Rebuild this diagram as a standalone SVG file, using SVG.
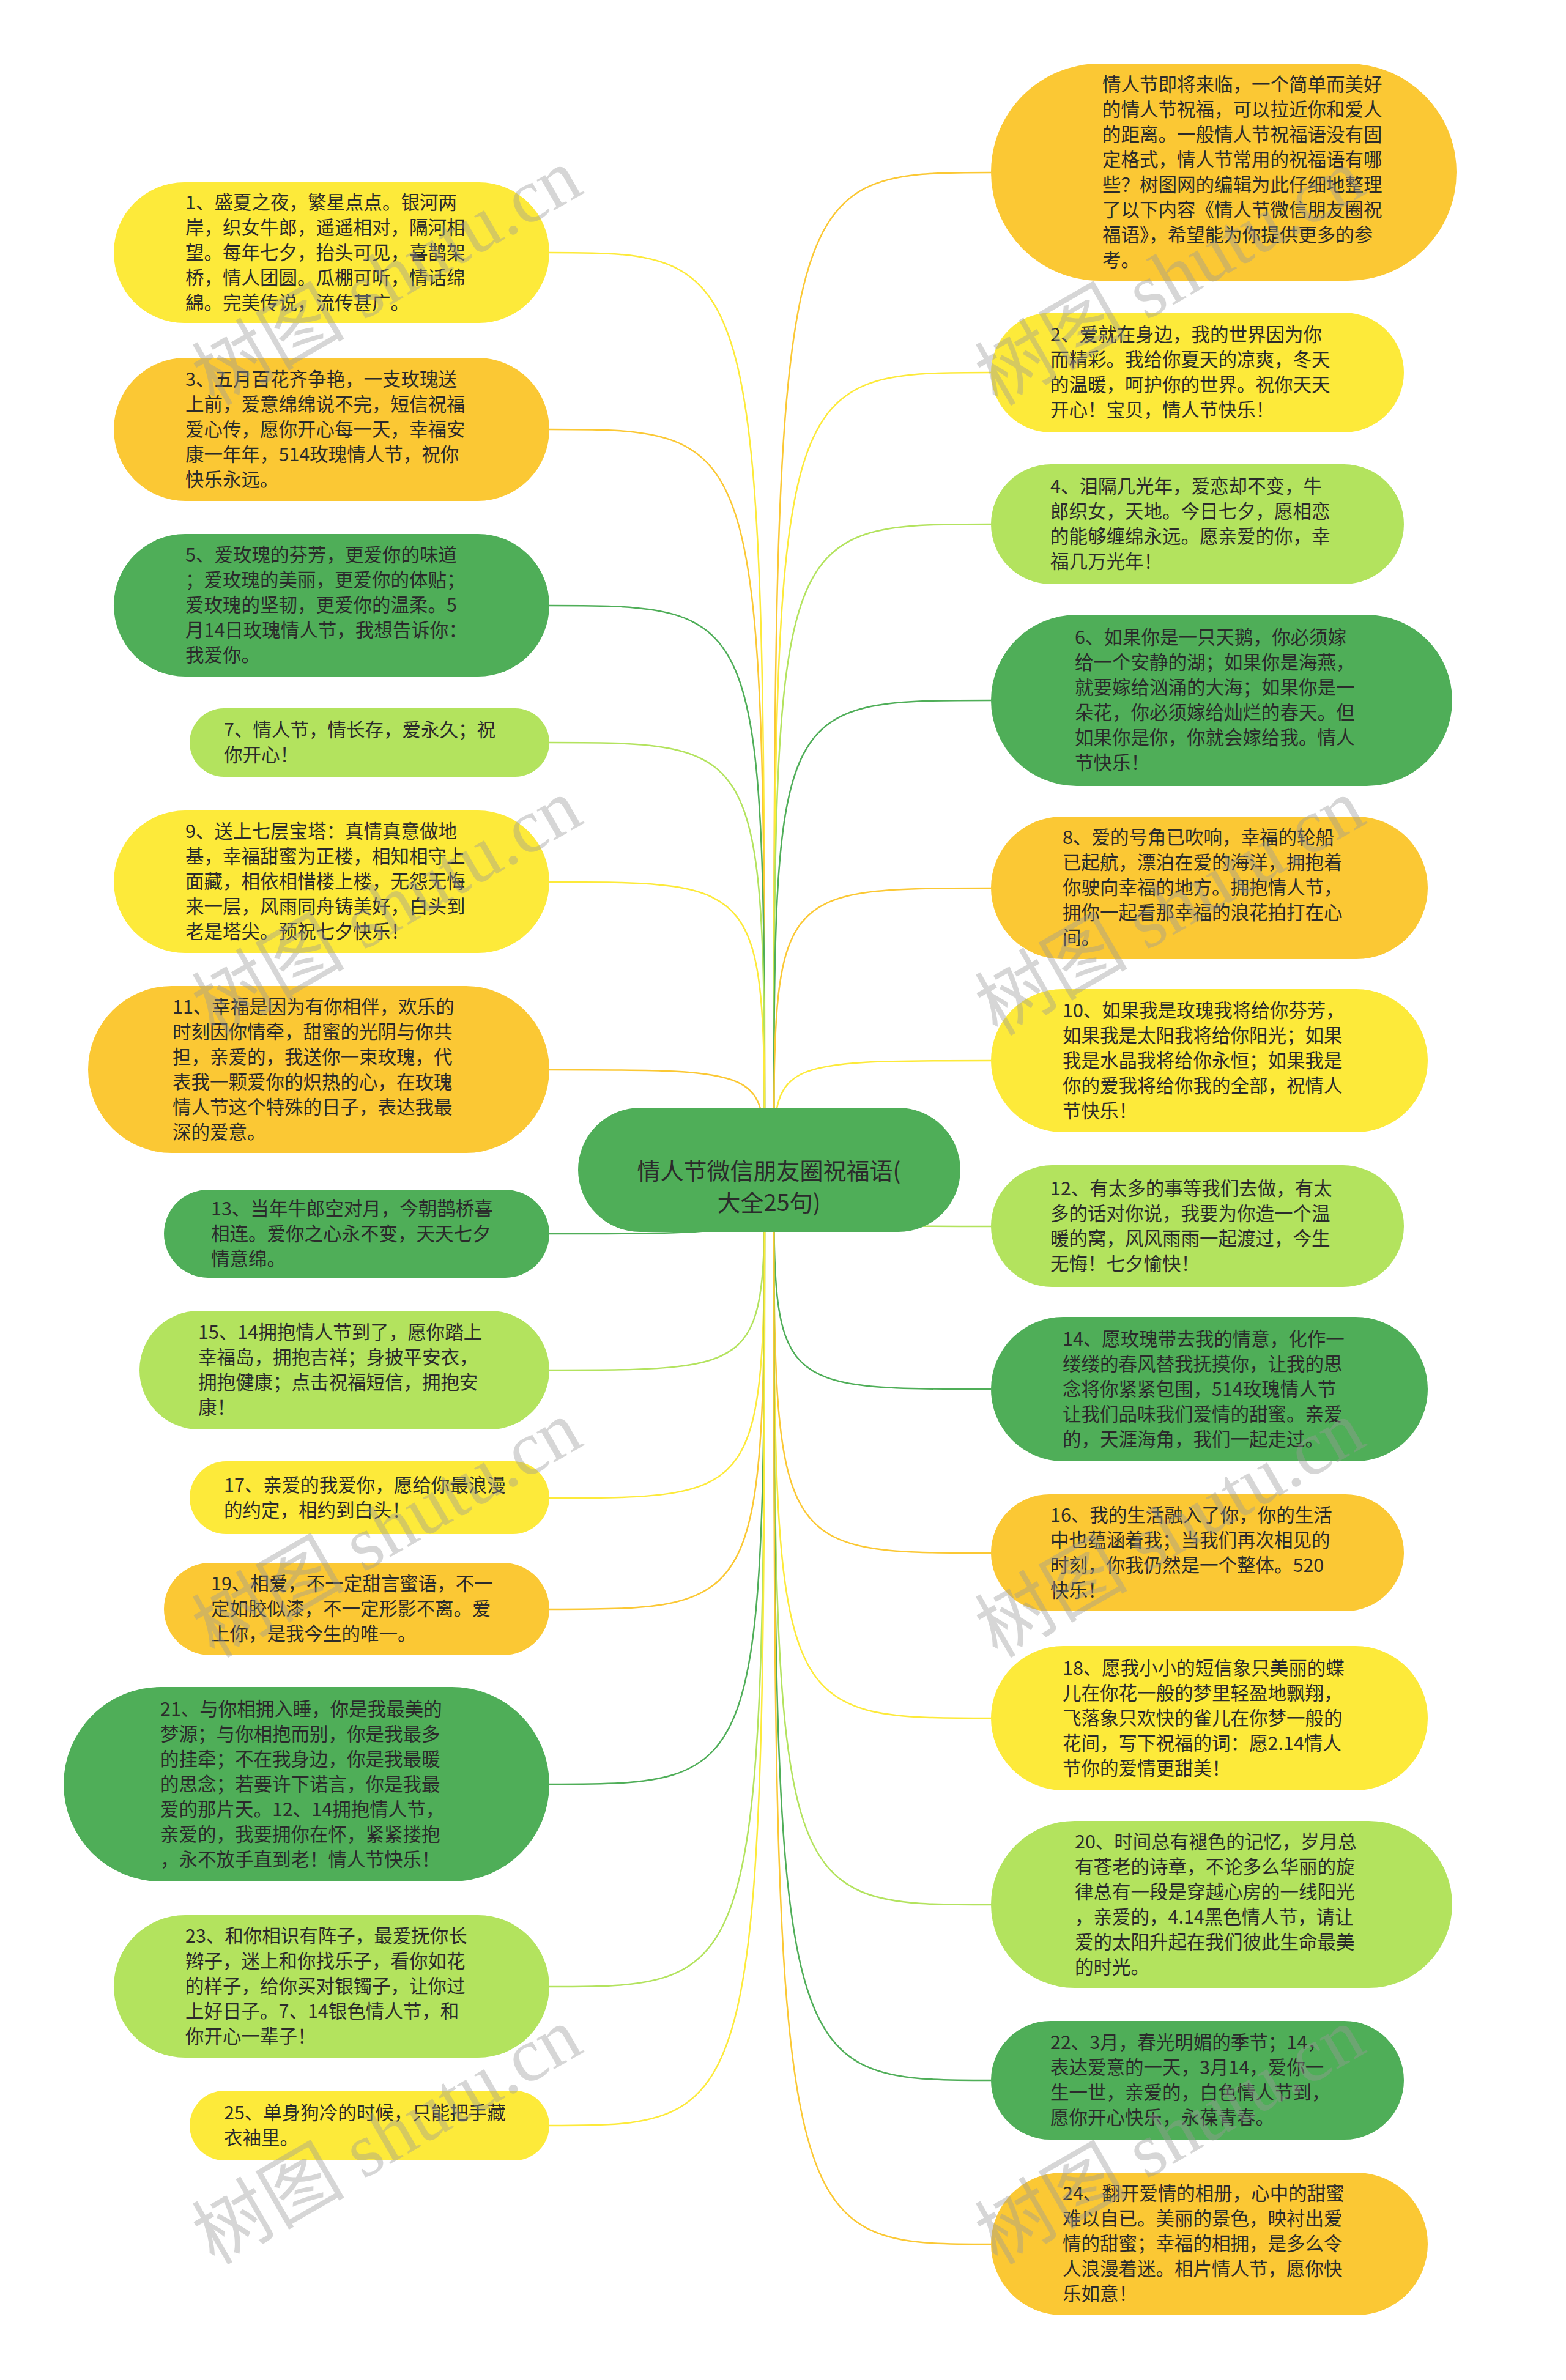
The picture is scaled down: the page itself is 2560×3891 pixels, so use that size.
<svg xmlns="http://www.w3.org/2000/svg" width="2560" height="3891" viewBox="0 0 2560 3891">
<style>
.bg{fill:#ffffff}
.y{fill:#FDEA3A}.o{fill:#FBC834}.g{fill:#4FAE58}.l{fill:#B3E35E}
.sy{stroke:#FDEA3A}.so{stroke:#FBC834}.sg{stroke:#4FAE58}.sl{stroke:#B3E35E}
.cn path{fill:none;stroke-width:2.5}
.t{font-family:"Noto Sans CJK SC","Noto Sans",sans-serif;font-size:30.5px;fill:#2b2b2b}
.ct{font-family:"Noto Sans CJK SC","Noto Sans",sans-serif;font-size:38px;fill:#2b2b2b;text-anchor:middle}
.wm{font-family:"Liberation Serif","Noto Sans CJK SC",serif;font-size:125px;fill:#9a9a9a;opacity:0.4}
</style>
<rect class="bg" x="0" y="0" width="2560" height="3891"/>
<g id="connectors" class="cn">
<path class="sy" d="M1250,1912 C1250,413 1250,413 898,413"/>
<path class="so" d="M1250,1912 C1250,702 1250,702 898,702"/>
<path class="sg" d="M1250,1912 C1250,990 1250,990 898,990"/>
<path class="sl" d="M1250,1912 C1250,1214 1250,1214 898,1214"/>
<path class="sy" d="M1250,1912 C1250,1442 1250,1442 898,1442"/>
<path class="so" d="M1250,1912 C1250,1749 1250,1749 898,1749"/>
<path class="sg" d="M1250,1912 C1250,2017 1250,2017 898,2017"/>
<path class="sl" d="M1250,1912 C1250,2240 1250,2240 898,2240"/>
<path class="sy" d="M1250,1912 C1250,2449 1250,2449 898,2449"/>
<path class="so" d="M1250,1912 C1250,2631 1250,2631 898,2631"/>
<path class="sg" d="M1250,1912 C1250,2917 1250,2917 898,2917"/>
<path class="sl" d="M1250,1912 C1250,3248 1250,3248 898,3248"/>
<path class="sy" d="M1250,1912 C1250,3475 1250,3475 898,3475"/>
<path class="so" d="M1265,1912 C1265,282 1265,282 1620,282"/>
<path class="sy" d="M1265,1912 C1265,609 1265,609 1620,609"/>
<path class="sl" d="M1265,1912 C1265,857 1265,857 1620,857"/>
<path class="sg" d="M1265,1912 C1265,1145 1265,1145 1620,1145"/>
<path class="so" d="M1265,1912 C1265,1452 1265,1452 1620,1452"/>
<path class="sy" d="M1265,1912 C1265,1734 1265,1734 1620,1734"/>
<path class="sl" d="M1265,1912 C1265,2005 1265,2005 1620,2005"/>
<path class="sg" d="M1265,1912 C1265,2271 1265,2271 1620,2271"/>
<path class="so" d="M1265,1912 C1265,2539 1265,2539 1620,2539"/>
<path class="sy" d="M1265,1912 C1265,2809 1265,2809 1620,2809"/>
<path class="sl" d="M1265,1912 C1265,3114 1265,3114 1620,3114"/>
<path class="sg" d="M1265,1912 C1265,3401 1265,3401 1620,3401"/>
<path class="so" d="M1265,1912 C1265,3669 1265,3669 1620,3669"/>
</g>
<g id="center">
<rect class="g" x="945" y="1811" width="625" height="203" rx="101.5"/>
<text class="ct" x="1257" y="1928">情人节微信朋友圈祝福语(<tspan x="1257" dy="52">大全25句)</tspan></text>
</g>
<g id="n1"><rect class="y" x="186" y="298" width="712" height="230" rx="115"/>
<text class="t" x="303" y="342"><tspan x="303">1、盛夏之夜，繁星点点。银河两</tspan><tspan x="303" dy="41">岸，织女牛郎，遥遥相对，隔河相</tspan><tspan x="303" dy="41">望。每年七夕，抬头可见，喜鹊架</tspan><tspan x="303" dy="41">桥，情人团圆。瓜棚可听，情话绵</tspan><tspan x="303" dy="41">綿。完美传说，流传甚广。</tspan></text></g>
<g id="n3"><rect class="o" x="186" y="585" width="712" height="234" rx="117"/>
<text class="t" y="631"><tspan x="303">3、五月百花齐争艳，一支玫瑰送</tspan><tspan x="303" dy="41">上前，爱意绵绵说不完，短信祝福</tspan><tspan x="303" dy="41">爱心传，愿你开心每一天，幸福安</tspan><tspan x="303" dy="41">康一年年，514玫瑰情人节，祝你</tspan><tspan x="303" dy="41">快乐永远。</tspan></text></g>
<g id="n5"><rect class="g" x="186" y="873" width="712" height="233" rx="116.5"/>
<text class="t" y="918"><tspan x="303">5、爱玫瑰的芬芳，更爱你的味道</tspan><tspan x="303" dy="41">；爱玫瑰的美丽，更爱你的体贴；</tspan><tspan x="303" dy="41">爱玫瑰的坚韧，更爱你的温柔。5</tspan><tspan x="303" dy="41">月14日玫瑰情人节，我想告诉你：</tspan><tspan x="303" dy="41">我爱你。</tspan></text></g>
<g id="n7"><rect class="l" x="310" y="1158" width="588" height="112" rx="56"/>
<text class="t" y="1204"><tspan x="366">7、情人节，情长存，爱永久；祝</tspan><tspan x="366" dy="41">你开心！</tspan></text></g>
<g id="n9"><rect class="y" x="186" y="1325" width="712" height="233" rx="116.5"/>
<text class="t" y="1370"><tspan x="303">9、送上七层宝塔：真情真意做地</tspan><tspan x="303" dy="41">基，幸福甜蜜为正楼，相知相守上</tspan><tspan x="303" dy="41">面藏，相依相惜楼上楼，无怨无悔</tspan><tspan x="303" dy="41">来一层，风雨同舟铸美好，白头到</tspan><tspan x="303" dy="41">老是塔尖。预祝七夕快乐！</tspan></text></g>
<g id="n11"><rect class="o" x="144" y="1612" width="754" height="273" rx="136.5"/>
<text class="t" y="1657"><tspan x="282">11、幸福是因为有你相伴，欢乐的</tspan><tspan x="282" dy="41">时刻因你情牵，甜蜜的光阴与你共</tspan><tspan x="282" dy="41">担，亲爱的，我送你一束玫瑰，代</tspan><tspan x="282" dy="41">表我一颗爱你的炽热的心，在玫瑰</tspan><tspan x="282" dy="41">情人节这个特殊的日子，表达我最</tspan><tspan x="282" dy="41">深的爱意。</tspan></text></g>
<g id="n13"><rect class="g" x="268" y="1945" width="630" height="144" rx="72"/>
<text class="t" y="1987"><tspan x="345">13、当年牛郎空对月，今朝鹊桥喜</tspan><tspan x="345" dy="41">相连。爱你之心永不变，天天七夕</tspan><tspan x="345" dy="41">情意绵。</tspan></text></g>
<g id="n15"><rect class="l" x="228" y="2143" width="670" height="194" rx="97"/>
<text class="t" y="2189"><tspan x="324">15、14拥抱情人节到了，愿你踏上</tspan><tspan x="324" dy="41">幸福岛，拥抱吉祥；身披平安衣，</tspan><tspan x="324" dy="41">拥抱健康；点击祝福短信，拥抱安</tspan><tspan x="324" dy="41">康！</tspan></text></g>
<g id="n17"><rect class="y" x="310" y="2389" width="588" height="119" rx="59.5"/>
<text class="t" y="2439"><tspan x="366">17、亲爱的我爱你，愿给你最浪漫</tspan><tspan x="366" dy="41">的约定，相约到白头！</tspan></text></g>
<g id="n19"><rect class="o" x="268" y="2555" width="630" height="151" rx="75.5"/>
<text class="t" y="2600"><tspan x="345">19、相爱，不一定甜言蜜语，不一</tspan><tspan x="345" dy="41">定如胶似漆，不一定形影不离。爱</tspan><tspan x="345" dy="41">上你，是我今生的唯一。</tspan></text></g>
<g id="n21"><rect class="g" x="104" y="2758" width="794" height="318" rx="159"/>
<text class="t" y="2805"><tspan x="262">21、与你相拥入睡，你是我最美的</tspan><tspan x="262" dy="41">梦源；与你相抱而别，你是我最多</tspan><tspan x="262" dy="41">的挂牵；不在我身边，你是我最暖</tspan><tspan x="262" dy="41">的思念；若要许下诺言，你是我最</tspan><tspan x="262" dy="41">爱的那片天。12、14拥抱情人节，</tspan><tspan x="262" dy="41">亲爱的，我要拥你在怀，紧紧搂抱</tspan><tspan x="262" dy="41">，永不放手直到老！情人节快乐！</tspan></text></g>
<g id="n23"><rect class="l" x="186" y="3131" width="712" height="233" rx="116.5"/>
<text class="t" y="3176"><tspan x="303">23、和你相识有阵子，最爱抚你长</tspan><tspan x="303" dy="41">辫子，迷上和你找乐子，看你如花</tspan><tspan x="303" dy="41">的样子，给你买对银镯子，让你过</tspan><tspan x="303" dy="41">上好日子。7、14银色情人节，和</tspan><tspan x="303" dy="41">你开心一辈子！</tspan></text></g>
<g id="n25"><rect class="y" x="310" y="3418" width="588" height="114" rx="57"/>
<text class="t" y="3465"><tspan x="366">25、单身狗冷的时候，只能把手藏</tspan><tspan x="366" dy="41">衣袖里。</tspan></text></g>
<g id="intro"><rect class="o" x="1620" y="104" width="761" height="355" rx="177.5"/>
<text class="t" y="149"><tspan x="1802">情人节即将来临，一个简单而美好</tspan><tspan x="1802" dy="41">的情人节祝福，可以拉近你和爱人</tspan><tspan x="1802" dy="41">的距离。一般情人节祝福语没有固</tspan><tspan x="1802" dy="41">定格式，情人节常用的祝福语有哪</tspan><tspan x="1802" dy="41">些？树图网的编辑为此仔细地整理</tspan><tspan x="1802" dy="41">了以下内容《情人节微信朋友圈祝</tspan><tspan x="1802" dy="41">福语》，希望能为你提供更多的参</tspan><tspan x="1802" dy="41">考。</tspan></text></g>
<g id="n2"><rect class="y" x="1620" y="511" width="675" height="196" rx="98"/>
<text class="t" y="558"><tspan x="1717">2、爱就在身边，我的世界因为你</tspan><tspan x="1717" dy="41">而精彩。我给你夏天的凉爽，冬天</tspan><tspan x="1717" dy="41">的温暖，呵护你的世界。祝你天天</tspan><tspan x="1717" dy="41">开心！宝贝，情人节快乐！</tspan></text></g>
<g id="n4"><rect class="l" x="1620" y="759" width="675" height="196" rx="98"/>
<text class="t" y="806"><tspan x="1717">4、泪隔几光年，爱恋却不变，牛</tspan><tspan x="1717" dy="41">郎织女，天地。今日七夕，愿相恋</tspan><tspan x="1717" dy="41">的能够缠绵永远。愿亲爱的你，幸</tspan><tspan x="1717" dy="41">福几万光年！</tspan></text></g>
<g id="n6"><rect class="g" x="1620" y="1005" width="754" height="280" rx="140"/>
<text class="t" y="1053"><tspan x="1757">6、如果你是一只天鹅，你必须嫁</tspan><tspan x="1757" dy="41">给一个安静的湖；如果你是海燕，</tspan><tspan x="1757" dy="41">就要嫁给汹涌的大海；如果你是一</tspan><tspan x="1757" dy="41">朵花，你必须嫁给灿烂的春天。但</tspan><tspan x="1757" dy="41">如果你是你，你就会嫁给我。情人</tspan><tspan x="1757" dy="41">节快乐！</tspan></text></g>
<g id="n8"><rect class="o" x="1620" y="1335" width="714" height="233" rx="116.5"/>
<text class="t" y="1380"><tspan x="1737">8、爱的号角已吹响，幸福的轮船</tspan><tspan x="1737" dy="41">已起航，漂泊在爱的海洋，拥抱着</tspan><tspan x="1737" dy="41">你驶向幸福的地方。拥抱情人节，</tspan><tspan x="1737" dy="41">拥你一起看那幸福的浪花拍打在心</tspan><tspan x="1737" dy="41">间。</tspan></text></g>
<g id="n10"><rect class="y" x="1620" y="1617" width="714" height="234" rx="117"/>
<text class="t" y="1663"><tspan x="1737">10、如果我是玫瑰我将给你芬芳，</tspan><tspan x="1737" dy="41">如果我是太阳我将给你阳光；如果</tspan><tspan x="1737" dy="41">我是水晶我将给你永恒；如果我是</tspan><tspan x="1737" dy="41">你的爱我将给你我的全部，祝情人</tspan><tspan x="1737" dy="41">节快乐！</tspan></text></g>
<g id="n12"><rect class="l" x="1620" y="1905" width="675" height="199" rx="99.5"/>
<text class="t" y="1954"><tspan x="1717">12、有太多的事等我们去做，有太</tspan><tspan x="1717" dy="41">多的话对你说，我要为你造一个温</tspan><tspan x="1717" dy="41">暖的窝，风风雨雨一起渡过，今生</tspan><tspan x="1717" dy="41">无悔！七夕愉快！</tspan></text></g>
<g id="n14"><rect class="g" x="1620" y="2153" width="714" height="236" rx="118"/>
<text class="t" y="2200"><tspan x="1737">14、愿玫瑰带去我的情意，化作一</tspan><tspan x="1737" dy="41">缕缕的春风替我抚摸你，让我的思</tspan><tspan x="1737" dy="41">念将你紧紧包围，514玫瑰情人节</tspan><tspan x="1737" dy="41">让我们品味我们爱情的甜蜜。亲爱</tspan><tspan x="1737" dy="41">的，天涯海角，我们一起走过。</tspan></text></g>
<g id="n16"><rect class="o" x="1620" y="2443" width="675" height="191" rx="95.5"/>
<text class="t" y="2488"><tspan x="1717">16、我的生活融入了你，你的生活</tspan><tspan x="1717" dy="41">中也蕴涵着我；当我们再次相见的</tspan><tspan x="1717" dy="41">时刻，你我仍然是一个整体。520</tspan><tspan x="1717" dy="41">快乐！</tspan></text></g>
<g id="n18"><rect class="y" x="1620" y="2691" width="714" height="236" rx="118"/>
<text class="t" y="2738"><tspan x="1737">18、愿我小小的短信象只美丽的蝶</tspan><tspan x="1737" dy="41">儿在你花一般的梦里轻盈地飘翔，</tspan><tspan x="1737" dy="41">飞落象只欢快的雀儿在你梦一般的</tspan><tspan x="1737" dy="41">花间，写下祝福的词：愿2.14情人</tspan><tspan x="1737" dy="41">节你的爱情更甜美！</tspan></text></g>
<g id="n20"><rect class="l" x="1620" y="2977" width="754" height="273" rx="136.5"/>
<text class="t" y="3022"><tspan x="1757">20、时间总有褪色的记忆，岁月总</tspan><tspan x="1757" dy="41">有苍老的诗章，不论多么华丽的旋</tspan><tspan x="1757" dy="41">律总有一段是穿越心房的一线阳光</tspan><tspan x="1757" dy="41">，亲爱的，4.14黑色情人节，请让</tspan><tspan x="1757" dy="41">爱的太阳升起在我们彼此生命最美</tspan><tspan x="1757" dy="41">的时光。</tspan></text></g>
<g id="n22"><rect class="g" x="1620" y="3304" width="675" height="194" rx="97"/>
<text class="t" y="3350"><tspan x="1717">22、3月，春光明媚的季节；14，</tspan><tspan x="1717" dy="41">表达爱意的一天，3月14，爱你一</tspan><tspan x="1717" dy="41">生一世，亲爱的，白色情人节到，</tspan><tspan x="1717" dy="41">愿你开心快乐，永葆青春。</tspan></text></g>
<g id="n24"><rect class="o" x="1620" y="3552" width="714" height="233" rx="116.5"/>
<text class="t" y="3597"><tspan x="1737">24、翻开爱情的相册，心中的甜蜜</tspan><tspan x="1737" dy="41">难以自已。美丽的景色，映衬出爱</tspan><tspan x="1737" dy="41">情的甜蜜；幸福的相拥，是多么令</tspan><tspan x="1737" dy="41">人浪漫着迷。相片情人节，愿你快</tspan><tspan x="1737" dy="41">乐如意！</tspan></text></g>
<g id="watermarks">
<text class="wm" x="350" y="665" transform="rotate(-30 350 665)">树图 shutu.cn</text>
<text class="wm" x="1630" y="665" transform="rotate(-30 1630 665)">树图 shutu.cn</text>
<text class="wm" x="350" y="1695" transform="rotate(-30 350 1695)">树图 shutu.cn</text>
<text class="wm" x="1630" y="1695" transform="rotate(-30 1630 1695)">树图 shutu.cn</text>
<text class="wm" x="350" y="2712" transform="rotate(-30 350 2712)">树图 shutu.cn</text>
<text class="wm" x="1630" y="2712" transform="rotate(-30 1630 2712)">树图 shutu.cn</text>
<text class="wm" x="350" y="3704" transform="rotate(-30 350 3704)">树图 shutu.cn</text>
<text class="wm" x="1630" y="3704" transform="rotate(-30 1630 3704)">树图 shutu.cn</text>
</g>
</svg>
